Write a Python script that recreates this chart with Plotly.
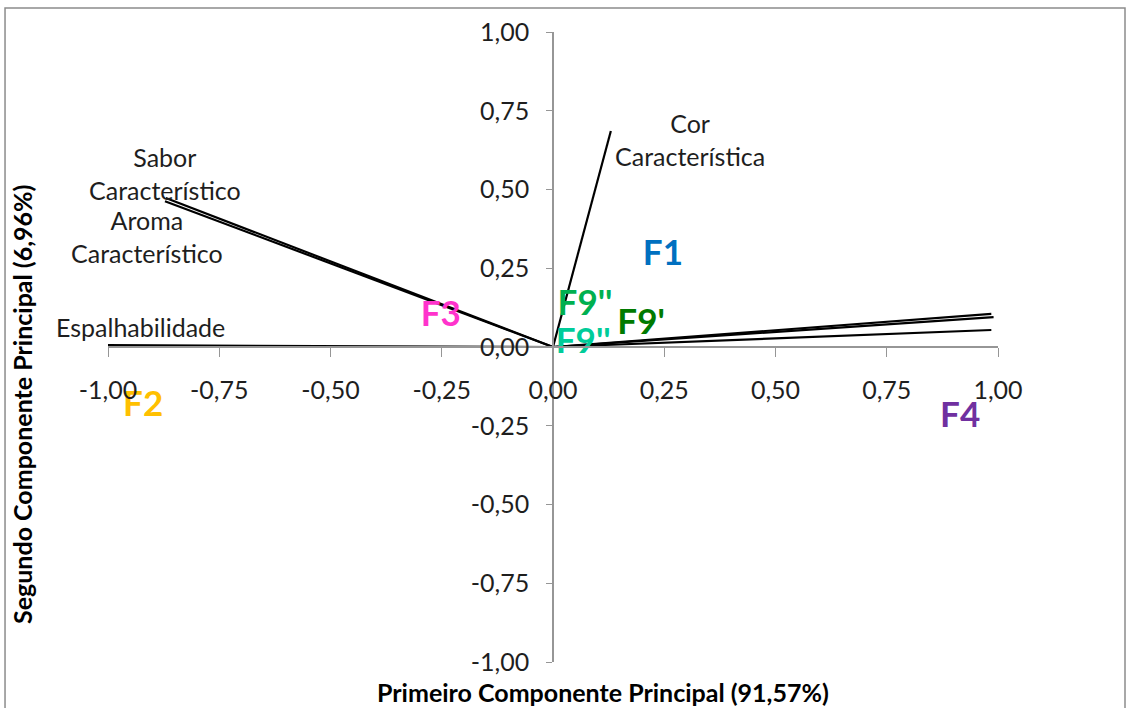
import plotly.graph_objects as go

# Loadings (variable vectors)
var_names = ["Espalhabilidade", "Sabor Característico", "Aroma Característico",
             "Cor Característica", "Viscosidade", "Consistência", "Adesividade"]
var_pc1 = [-1.00, -0.870, -0.872, 0.130, 0.985, 0.990, 0.985]
var_pc2 = [0.006, 0.473, 0.463, 0.686, 0.105, 0.095, 0.054]

# Scores (formulations)
sample_names = ["F1", "F2", "F3", "F4", "F9''", "F9'", "F9''"]
sample_pc1 = [0.247, -0.921, -0.252, 0.915, 0.072, 0.198, 0.068]
sample_pc2 = [0.289, -0.190, 0.095, -0.225, 0.130, 0.070, 0.008]
sample_colors = ["#0070C0", "#FFC000", "#FF33CC", "#7030A0", "#00B050", "#007A00", "#00CC99"]

tick_vals = [-1.0, -0.75, -0.5, -0.25, 0.0, 0.25, 0.5, 0.75, 1.0]
tick_text = ["-1,00", "-0,75", "-0,50", "-0,25", "0,00", "0,25", "0,50", "0,75", "1,00"]

FONT = "Lato"
fig = go.Figure()

for name, x, y in zip(var_names, var_pc1, var_pc2):
    fig.add_trace(go.Scatter(x=[0, x], y=[0, y], mode="lines",
                             line=dict(color="black", width=2.2), name=name,
                             showlegend=False, hoverinfo="skip"))

fig.add_trace(go.Scatter(
    x=sample_pc1, y=sample_pc2, mode="text", text=sample_names,
    textfont=dict(family=FONT, size=35, color=sample_colors, weight="bold"),
    textposition="middle center", showlegend=False))

# variable labels (positions of data labels)
var_labels = [
    ("Espalhabilidade", -0.926, 0.063),
    ("Sabor<br>Característico", -0.872, 0.552),
    ("Aroma<br>Característico", -0.912, 0.352),
    ("Cor<br>Característica", 0.308, 0.660),
    ("Viscosidade", 1.126, 0.181),
    ("Consistência", 1.119, 0.086),
    ("Adesividade", 1.121, -0.006),
]
for txt, x, y in var_labels:
    fig.add_annotation(x=x, y=y, xref="x", yref="y", text=txt, showarrow=False,
                       font=dict(family=FONT, size=25, color="#1e1e1e"),
                       align="center", xanchor="center", yanchor="middle")

fig.add_annotation(x=0.556, y=-0.048, xref="paper", yref="paper",
                   text="<b>Primeiro Componente Principal (91,57%)</b>", showarrow=False,
                   font=dict(family=FONT, size=25, color="black"),
                   xanchor="center", yanchor="middle")
fig.add_annotation(x=-0.0966, y=0.408, xref="paper", yref="paper", textangle=-90,
                   text="<b>Segundo Componente Principal (6,96%)</b>", showarrow=False,
                   font=dict(family=FONT, size=25, color="black"),
                   xanchor="center", yanchor="middle")

fig.add_shape(type="rect", xref="paper", yref="paper",
              x0=-0.1157, x1=1.1427, y0=-0.09, y1=1.038,
              line=dict(color="#8c8c8c", width=1.5))

fig.update_layout(
    width=1130, height=708,
    margin=dict(l=108, r=132, t=32, b=46),
    paper_bgcolor="white", plot_bgcolor="white",
    font=dict(family=FONT, color="#1e1e1e"),
    xaxis=dict(range=[-1, 1], tickvals=tick_vals, ticktext=tick_text,
               showgrid=False, zeroline=False, showline=True,
               linecolor="#969696", linewidth=1.5,
               ticks="outside", ticklen=9, tickcolor="#969696",
               anchor="free", position=0.5,
               tickfont=dict(family=FONT, size=25, color="#1e1e1e"),
               ticklabelstandoff=12),
    yaxis=dict(range=[-1, 1], tickvals=tick_vals, ticktext=tick_text,
               showgrid=False, zeroline=False, showline=True,
               linecolor="#969696", linewidth=1.5,
               ticks="outside", ticklen=6, tickcolor="#969696",
               anchor="free", position=0.5,
               tickfont=dict(family=FONT, size=25, color="#1e1e1e"),
               ticklabelstandoff=12),
)

fig.write_html("out.html")
